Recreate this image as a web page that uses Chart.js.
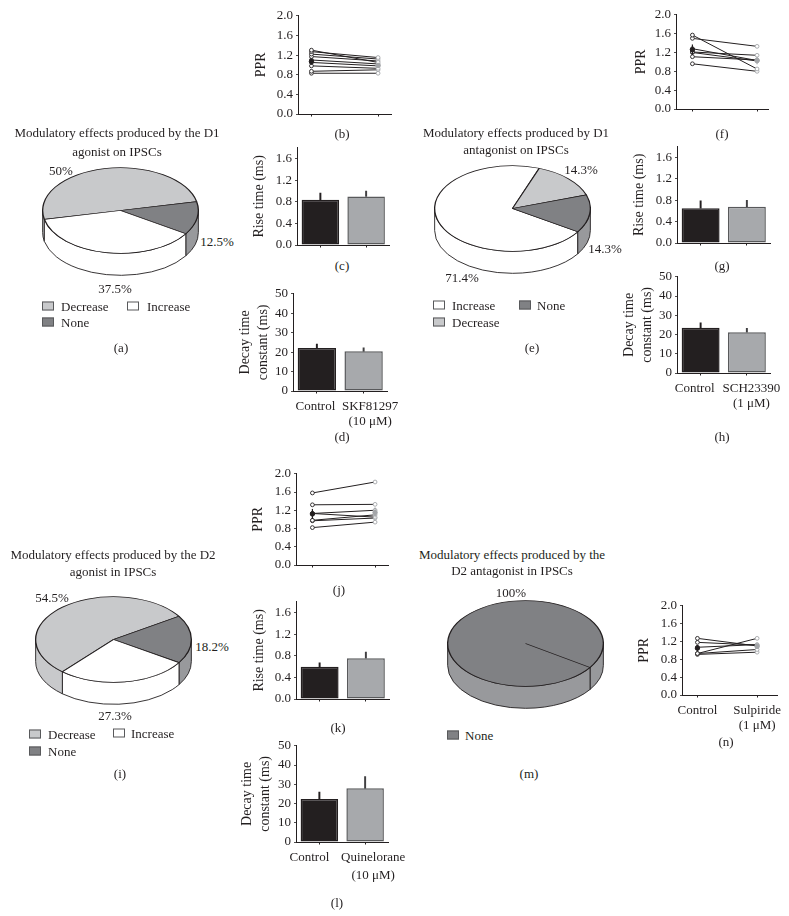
<!DOCTYPE html>
<html><head><meta charset="utf-8">
<script src="https://cdn.jsdelivr.net/npm/chart.js@4"></script>
<style>
html,body{margin:0;padding:0;background:#fff;}
#stage{position:relative;width:789px;height:916px;overflow:hidden;font-family:"Liberation Serif",serif;color:#231f20;}
canvas{position:absolute;}
.t{position:absolute;white-space:pre;transform:translate(-50%,-50%);font-size:13px;line-height:1;}
.l{position:absolute;white-space:pre;transform:translateY(-50%);font-size:13px;line-height:1;}
.s{position:absolute;width:10px;height:7px;border:1px solid #58595b;transform:translateY(-50%);}
</style></head><body><div id="stage"></div>
<script>
// ---------- pie data ----------
const pieALabels=['Decrease','None','Increase'];   const pieAValues=[50,12.5,37.5];
const pieELabels=['Increase','Decrease','None'];   const pieEValues=[71.4,14.3,14.3];
const pieILabels=['Decrease','None','Increase'];   const pieIValues=[54.5,18.2,27.3];
const pieMLabels=['None'];                         const pieMValues=[100];
// ---------- paired PPR data ----------
const bLeft=[1.30,1.27,1.22,1.17,1.10,1.05,0.98,0.87,0.83];
const bRight=[1.05,1.15,1.12,1.08,1.02,0.98,0.93,0.90,0.83];
const bMean=[1.07,0.99]; const bErr=[0.06,0.04];
const fLeft=[1.57,1.50,1.28,1.21,1.20,1.11,0.96];
const fRight=[0.85,1.33,1.03,1.14,1.02,1.04,0.80];
const fMean=[1.26,1.03]; const fErr=[0.11,0.08];
const jLeft=[1.58,1.32,1.13,1.13,0.98,0.97,0.82];
const jRight=[1.82,1.33,1.20,1.05,1.10,1.03,0.94];
const jMean=[1.12,1.15]; const jErr=[0.11,0.11];
const nLeft=[1.27,1.18,1.07,0.93,0.93,0.91];
const nRight=[1.10,1.12,1.13,1.27,1.02,0.96];
const nMean=[1.05,1.09]; const nErr=[0.07,0.05];
// ---------- bar data ----------
const cValues=[0.84,0.90]; const cErrors=[0.12,0.10];
const dValues=[22.1,20.4]; const dErrors=[2.0,1.8];
const gValues=[0.65,0.68]; const gErrors=[0.14,0.12];
const hValues=[23.5,21.2]; const hErrors=[2.6,2.0];
const kValues=[0.595,0.755]; const kErrors=[0.075,0.115];
const lValues=[22.3,27.9]; const lErrors=[3.7,6.1];
// ---------- labels ----------
const dCats=['Control',['SKF81297','(10 μM)']];
const hCats=['Control',['SCH23390','(1 μM)']];
const lCats=['Control',['Quinelorane','(10 μM)']];
const nCats=['Control',['Sulpiride','(1 μM)']];
const blankCats=['',''];
const pprTitle='PPR', riseTitle='Rise time (ms)', decayTitle=['Decay time','constant (ms)'];

const INK='#231f20', GREY='#a3a5a8';
const fill={Decrease:'#c8c9cb',None:'#808184',Increase:'#ffffff'};
const side={Decrease:'#c8c9cb',None:'#98999c',Increase:'#ffffff'};
Chart.defaults.font.family='"Liberation Serif", serif';
Chart.defaults.font.size=13;
Chart.defaults.color=INK;
Chart.defaults.animation=false;

const stage=document.getElementById('stage');
function mk(left,top,w,h){
  const c=document.createElement('canvas');
  c.width=w;c.height=h;c.style.left=left+'px';c.style.top=top+'px';c.style.width=w+'px';c.style.height=h+'px';
  stage.appendChild(c);return c.getContext('2d');
}
function text(s,x,y,size){
  const d=document.createElement('div');d.className='t';d.textContent=s;
  d.style.left=x+'px';d.style.top=y+'px';if(size)d.style.fontSize=size+'px';stage.appendChild(d);
}
function legend(name,sx,tx,y){
  const b=document.createElement('div');b.className='s';b.style.left=sx+'px';b.style.top=y+'px';b.style.background=fill[name];stage.appendChild(b);
  const d=document.createElement('div');d.className='l';d.textContent=name;d.style.left=tx+'px';d.style.top=y+'px';stage.appendChild(d);
}

// ---------- extruded, flattened pie ----------
function pie3d(labels,values,cx,cy,rotationDeg){
  const S=157, SQ=0.55, DEPTH=22;
  const plugin={id:'pie3d',
    beforeDatasetsDraw(chart){
      const ctx=chart.ctx, arcs=chart.getDatasetMeta(0).data, a0=arcs[0];
      const x=a0.x,y=a0.y,r=a0.outerRadius,ry=r*SQ;
      ctx.save();
      arcs.forEach((arc,i)=>{
        for(let k=-2;k<=2;k++){
          const lo=Math.max(arc.startAngle+k*2*Math.PI,0), hi=Math.min(arc.endAngle+k*2*Math.PI,Math.PI);
          if(hi<=lo) continue;
          ctx.beginPath();
          ctx.ellipse(x,y,r,ry,0,lo,hi);
          ctx.ellipse(x,y+DEPTH,r,ry,0,hi,lo,true);
          ctx.closePath();
          ctx.fillStyle=side[labels[i]];ctx.strokeStyle=INK;ctx.lineWidth=0.9;
          ctx.fill();ctx.stroke();
        }
      });
      ctx.restore();
      ctx.save();
      ctx.translate(x,y);ctx.scale(1,SQ);ctx.translate(-x,-y);
    },
    afterDatasetsDraw(chart){chart.ctx.restore();}
  };
  new Chart(mk(cx-S/2,cy-S/2,S,S),{type:'pie',
    data:{labels,datasets:[{data:values,backgroundColor:labels.map(n=>fill[n]),borderColor:INK,borderWidth:1.3}]},
    options:{responsive:false,rotation:rotationDeg,layout:{padding:0},plugins:{legend:{display:false},tooltip:{enabled:false}}},
    plugins:[plugin]});
}

// ---------- common axes ----------
function yScale(max,step,every,decimals,title,titleLH,yw){
  return {min:0,max,
    ticks:{stepSize:step,autoSkip:false,padding:3,font:{size:13},
      callback:v=>{const n=Math.round(v/step);return n%every===0?v.toFixed(decimals):null;}},
    grid:{drawOnChartArea:false,tickLength:2.5,color:INK,lineWidth:0.8},
    border:{color:INK,width:1},
    title:{display:true,text:title,padding:0,color:INK,font:{size:14,lineHeight:titleLH}},
    afterFit(s){s.width=yw;}
  };
}
function frame(p,labelled,padR){
  const xh=labelled?48:12, padT=10, cl=p.titleX-7.5, yw=p.left-cl;
  const w=yw+(p.right-p.left)+padR, h=padT+(p.bottom-p.top)+xh;
  return {ctx:mk(cl,p.top-padT,w,h),yw,xh,padT,padR};
}
function fitX(s,f){s.height=f.xh;s.paddingLeft=0;s.paddingRight=0;}
function shiftLabels(shift){
  return {id:'shiftLabels',beforeDraw(chart){
    const s=chart.scales.x; const items=s.getLabelItems();
    if(items._done) return; items._done=true;
    items.forEach((it,i)=>{it.options.translation[0]+=shift[i]||0;});
  }};
}
function pprPanel(p,left,right,mean,err,cats){
  const f=frame(p,!!cats,p.padR||6);
  const span=p.p1-p.p0;
  const ds=left.map((v,i)=>({order:2,data:[{x:0,y:v},{x:1,y:right[i]}],borderColor:INK,borderWidth:1,
    pointRadius:1.9,pointBorderWidth:0.9,pointBackgroundColor:'#fff',pointBorderColor:[INK,GREY]}));
  [0,1].forEach(i=>{
    const col=i?GREY:INK;
    ds.push({order:1,data:[{x:i,y:mean[i]-err[i]},{x:i,y:mean[i]+err[i]}],borderColor:col,borderWidth:1.2,pointRadius:0});
    ds.push({order:0,data:[{x:i,y:mean[i]}],pointRadius:2.2,pointBackgroundColor:col,pointBorderColor:col,showLine:false});
  });
  new Chart(f.ctx,{type:'line',data:{datasets:ds},
    options:{responsive:false,clip:false,layout:{padding:{top:f.padT,right:f.padR,left:0,bottom:0}},
      plugins:{legend:{display:false},tooltip:{enabled:false}},
      scales:{
        y:yScale(2,0.1,4,1,pprTitle,1.2,f.yw),
        x:{type:'linear',min:-(p.p0-p.left)/span,max:1+(p.right-p.p1)/span,
          afterBuildTicks(s){s.ticks=[{value:0},{value:1}];},
          ticks:{display:!!cats,autoSkip:false,maxRotation:0,minRotation:0,padding:6,font:{size:13,lineHeight:1.15},
            callback:v=>cats?cats[v]:''},
          grid:{drawOnChartArea:false,tickLength:2.5,color:INK},border:{color:INK,width:1},
          afterFit(s){fitX(s,f);}}
      }}});
}
function barPanel(p,cats,values,errors,yopt,labelled,shift,lh,tickPad){
  const f=frame(p,labelled,p.padR||6);
  new Chart(f.ctx,{type:'bar',
    data:{labels:cats,datasets:[
      {data:values,order:1,grouped:false,barPercentage:0.82,categoryPercentage:1,
       backgroundColor:[INK,'#a7a9ac'],borderColor:[INK,'#58595b'],borderWidth:1.5,borderSkipped:false},
      {data:values.map((v,i)=>[v,v+errors[i]]),order:2,grouped:false,barThickness:1.3,
       backgroundColor:[INK,'#414042'],borderWidth:0}
    ]},
    options:{responsive:false,layout:{padding:{top:f.padT,right:f.padR,left:0,bottom:0}},
      plugins:{legend:{display:false},tooltip:{enabled:false}},
      scales:{
        y:yScale(yopt.max,yopt.step,yopt.every,yopt.dec,yopt.title,yopt.lh,f.yw),
        x:{ticks:{display:labelled,autoSkip:false,maxRotation:0,minRotation:0,padding:tickPad||6,font:{size:13,lineHeight:lh||1.12}},
          grid:{drawOnChartArea:false,tickLength:2.5,color:INK,offset:false},border:{color:INK,width:1},
          afterFit(s){fitX(s,f);}}
      }},
    plugins:labelled?[shiftLabels(shift)]:[]});
}
const rise={max:1.8,step:0.1,every:4,dec:1,title:riseTitle,lh:1.2};
const decay={max:50,step:2,every:5,dec:0,title:decayTitle,lh:1.28};

// ---------- panels ----------
pie3d(pieALabels,pieAValues,120,210,-102);
pie3d(pieELabels,pieEValues,512,208,123);
pie3d(pieILabels,pieIValues,113,639,221);
pie3d(pieMLabels,pieMValues,525,643,124);

pprPanel({left:298,right:391,top:15,bottom:114,titleX:260,p0:311,p1:378},bLeft,bRight,bMean,bErr);
pprPanel({left:676,right:768,top:14,bottom:109,titleX:640,p0:692,p1:757},fLeft,fRight,fMean,fErr);
pprPanel({left:296,right:388,top:473,bottom:565,titleX:257,p0:312,p1:375},jLeft,jRight,jMean,jErr);
pprPanel({left:682,right:777,top:605,bottom:695,titleX:643,p0:697,p1:757,padR:10},nLeft,nRight,nMean,nErr,nCats);

barPanel({left:297,right:389,top:147,bottom:245,titleX:258},blankCats,cValues,cErrors,rise,false);
barPanel({left:293,right:387,top:293,bottom:391,titleX:243,padR:14},dCats,dValues,dErrors,decay,true,[-1.5,6.5]);
barPanel({left:677,right:770,top:146,bottom:243,titleX:638},blankCats,gValues,gErrors,rise,false);
barPanel({left:677,right:770,top:276,bottom:373,titleX:627,padR:12},hCats,hValues,hErrors,decay,true,[-6,4.5]);
barPanel({left:296,right:389,top:601,bottom:699,titleX:258},blankCats,kValues,kErrors,rise,false);
barPanel({left:296,right:388,top:745,bottom:842,titleX:245,padR:22},lCats,lValues,lErrors,decay,true,[-10,8],1.38,4);

// ---------- captions, percentages, legends ----------
text('Modulatory effects produced by the D1',117,132);text('agonist on IPSCs',117,151);
text('50%',61,170);text('12.5%',217,241);text('37.5%',115,288);
legend('Decrease',42,61,306);legend('Increase',127,147,306);legend('None',42,61,322);
text('(a)',121,347);
text('Modulatory effects produced by D1',516,132);text('antagonist on IPSCs',516,149);
text('14.3%',581,169);text('14.3%',605,248);text('71.4%',462,277);
legend('Increase',433,452,305);legend('None',519,537,305);legend('Decrease',433,452,322);
text('(e)',532,347);
text('Modulatory effects produced by the D2',113,554);text('agonist in IPSCs',113,571);
text('54.5%',52,597);text('18.2%',212,646);text('27.3%',115,715);
legend('Decrease',29,48,734);legend('Increase',113,131,733);legend('None',29,48,751);
text('(i)',120,773);
text('Modulatory effects produced by the',512,554);text('D2 antagonist in IPSCs',512,570);
text('100%',511,592);
legend('None',447,465,735);
text('(m)',529,773);
text('(b)',342,133);text('(c)',342,265);text('(d)',342,436);
text('(f)',722,133);text('(g)',722,265);text('(h)',722,436);
text('(j)',339,589);text('(k)',338,727);text('(l)',337,902);text('(n)',726,741);
</script></body></html>
